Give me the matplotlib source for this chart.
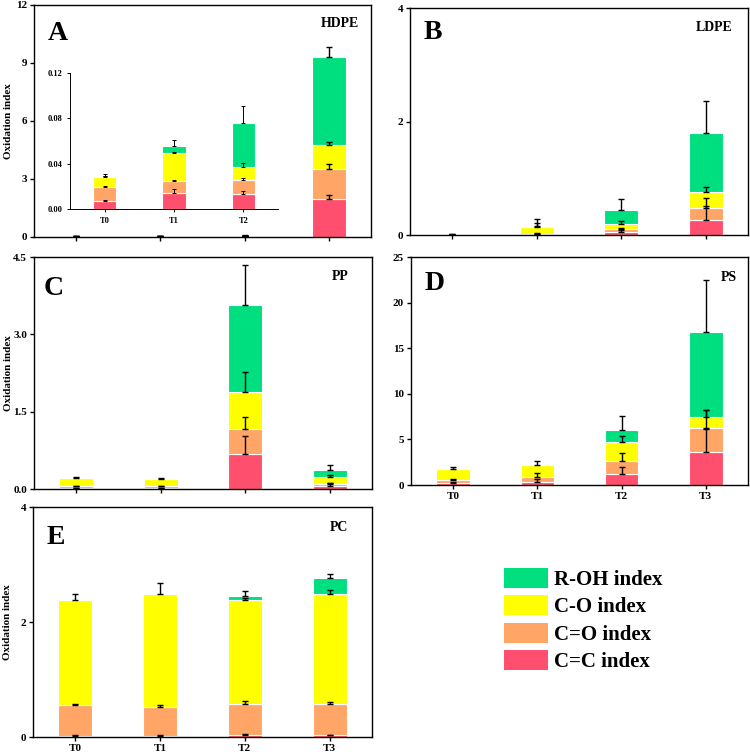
import numpy as np
import matplotlib
matplotlib.use('Agg')
import matplotlib.pyplot as plt
from matplotlib.patches import Patch

plt.rcParams['font.family'] = 'Liberation Serif'
plt.rcParams['font.weight'] = 'bold'

times = ['T0', 'T1', 'T2', 'T3']
components = ['C=C index', 'C=O index', 'C-O index', 'R-OH index']
colors = ['#ff4f6e', '#ffa566', '#ffff00', '#00df80']

# segment heights, order: C=C, C=O, C-O, R-OH ; columns T0..T3
hdpe_vals = [[0.0067, 0.014, 0.013, 1.95],
             [0.0123, 0.011, 0.0127, 1.59],
             [0.009, 0.024, 0.0117, 1.24],
             [0.0015, 0.0065, 0.0383, 4.55]]
hdpe_errs = [[0.0015, 0.0038, 0.003, 0.21],
             [0.0015, 0.001, 0.0015, 0.21],
             [0.001, 0.001, 0.0036, 0.12],
             [0.0015, 0.0055, 0.0153, 0.51]]

ldpe_vals = [[0.002, 0.005, 0.047, 0.26],
             [0.002, 0.005, 0.053, 0.22],
             [0.002, 0.13, 0.10, 0.27],
             [0.002, 0.02, 0.24, 1.04]]
ldpe_errs = [[0.005, 0.02, 0.04, 0.25],
             [0.005, 0.02, 0.02, 0.18],
             [0.005, 0.08, 0.046, 0.10],
             [0.005, 0.115, 0.20, 0.57]]

pp_vals = [[0.01, 0.01, 0.68, 0.05],
           [0.04, 0.04, 0.49, 0.05],
           [0.16, 0.14, 0.72, 0.13],
           [0.0, 0.0, 1.67, 0.13]]
pp_errs = [[0.01, 0.01, 0.35, 0.07],
           [0.015, 0.01, 0.23, 0.02],
           [0.02, 0.03, 0.38, 0.04],
           [0.0, 0.0, 0.78, 0.10]]

ps_vals = [[0.26, 0.37, 1.21, 3.67],
           [0.29, 0.55, 1.47, 2.63],
           [1.17, 1.28, 2.09, 1.21],
           [0.0, 0.0, 1.28, 9.29]]
ps_errs = [[0.10, 0.29, 0.73, 2.49],
           [0.11, 0.36, 0.80, 1.90],
           [0.28, 0.44, 0.65, 0.66],
           [0.0, 0.0, 1.57, 5.67]]

pc_vals = [[0.02, 0.02, 0.04, 0.03],
           [0.535, 0.51, 0.53, 0.55],
           [1.835, 1.95, 1.81, 1.91],
           [0.0, 0.0, 0.08, 0.28]]
pc_errs = [[0.01, 0.01, 0.01, 0.01],
           [0.015, 0.02, 0.05, 0.03],
           [0.10, 0.20, 0.04, 0.07],
           [0.0, 0.0, 0.08, 0.06]]


def stacked(ax, vals, errs, n=4, width=0.4, lw=1.0, cap=2.0):
    x = np.arange(n)
    bottom = np.zeros(n)
    for k in range(4):
        v = np.array(vals[k][:n])
        e = np.array(errs[k][:n])
        ax.bar(x, v, width, bottom=bottom, color=colors[k],
               edgecolor='white', linewidth=0.8, zorder=2)
        top = bottom + v
        m = e > 0
        ax.errorbar(x[m], top[m], yerr=[np.zeros(m.sum()), e[m]], fmt='none',
                    ecolor='black', elinewidth=lw, capsize=cap, capthick=lw, zorder=3)
        bottom = top
    ax.set_xlim(-0.5, n - 0.5)
    ax.set_xticks(x)


def style(ax, ymax, yticks, letter, name, lx, ly, nx, ny, ylabel=False, xlabels=False):
    ax.set_ylim(0, ymax)
    ax.set_yticks(yticks)
    ax.tick_params(direction='out', length=3, width=1, labelsize=8, pad=2)
    for s in ax.spines.values():
        s.set_linewidth(1)
    if xlabels:
        ax.set_xticklabels(times, fontweight='bold')
    else:
        ax.set_xticklabels([])
    for lab in ax.get_yticklabels():
        lab.set_fontweight('bold')
    if ylabel:
        ax.set_ylabel('Oxidation index', fontsize=8, fontweight='bold')
        ax.yaxis.set_label_coords(-0.062, 0.5)
    ax.text(lx, ly, letter, transform=ax.transAxes, fontsize=20,
            fontweight='bold', ha='left', va='top')
    ax.text(nx, ny, name, transform=ax.transAxes, fontsize=10,
            fontweight='bold', ha='right', va='center')


fig = plt.figure(figsize=(7.5, 7.55), dpi=100)

axA = fig.add_axes([0.0453, 0.6861, 0.4493, 0.3073])
stacked(axA, hdpe_vals, hdpe_errs)
style(axA, 12, [0, 3, 6, 9, 12], 'A', 'HDPE', 0.04, 0.93, 0.965, 0.92,
      ylabel=True)
axA.set_yticklabels(['0', '3', '6', '9', '12'])

axI = fig.add_axes([0.0933, 0.7232, 0.2773, 0.1801])
stacked(axI, hdpe_vals, hdpe_errs, n=3, width=0.34, lw=0.7, cap=1.2)
axI.set_ylim(0, 0.12)
axI.set_yticks([0.0, 0.04, 0.08, 0.12])
axI.set_yticklabels(['0.00', '0.04', '0.08', '0.12'])
axI.set_xticklabels(times[:3])
axI.tick_params(direction='out', length=2, width=0.7, labelsize=6)
for lab in axI.get_xticklabels() + axI.get_yticklabels():
    lab.set_fontweight('bold')
axI.spines['top'].set_visible(False)
axI.spines['right'].set_visible(False)
axI.spines['left'].set_linewidth(0.7)
axI.spines['bottom'].set_linewidth(0.7)
axI.patch.set_alpha(0)

axB = fig.add_axes([0.5467, 0.6887, 0.4507, 0.3007])
stacked(axB, ldpe_vals, ldpe_errs)
style(axB, 4, [0, 2, 4], 'B', 'LDPE', 0.04, 0.945, 0.955, 0.916)

axC = fig.add_axes([0.0453, 0.3523, 0.4507, 0.3073])
stacked(axC, pp_vals, pp_errs)
style(axC, 4.5, [0, 1.5, 3.0, 4.5], 'C', 'PP', 0.03, 0.92, 0.93, 0.914,
      ylabel=True)
axC.set_yticklabels(['0.0', '1.5', '3.0', '4.5'])

axD = fig.add_axes([0.548, 0.3576, 0.4493, 0.302])
stacked(axD, ps_vals, ps_errs)
style(axD, 25, [0, 5, 10, 15, 20, 25], 'D', 'PS', 0.04, 0.94, 0.967, 0.912,
      xlabels=True)

axE = fig.add_axes([0.044, 0.0238, 0.452, 0.3046])
stacked(axE, pc_vals, pc_errs)
style(axE, 4, [0, 2, 4], 'E', 'PC', 0.04, 0.92, 0.93, 0.909,
      ylabel=True, xlabels=True)

handles = [Patch(facecolor=colors[k], edgecolor='none') for k in [3, 2, 1, 0]]
labels = [components[k] for k in [3, 2, 1, 0]]
fig.legend(handles, labels, loc='upper left', bbox_to_anchor=(0.672, 0.2477),
           frameon=False, handlelength=2.1, handleheight=1.1,
           handletextpad=0.3, labelspacing=0.25, borderpad=0, borderaxespad=0,
           prop={'weight': 'bold', 'size': 15})

fig.savefig('out.png', dpi=100)
